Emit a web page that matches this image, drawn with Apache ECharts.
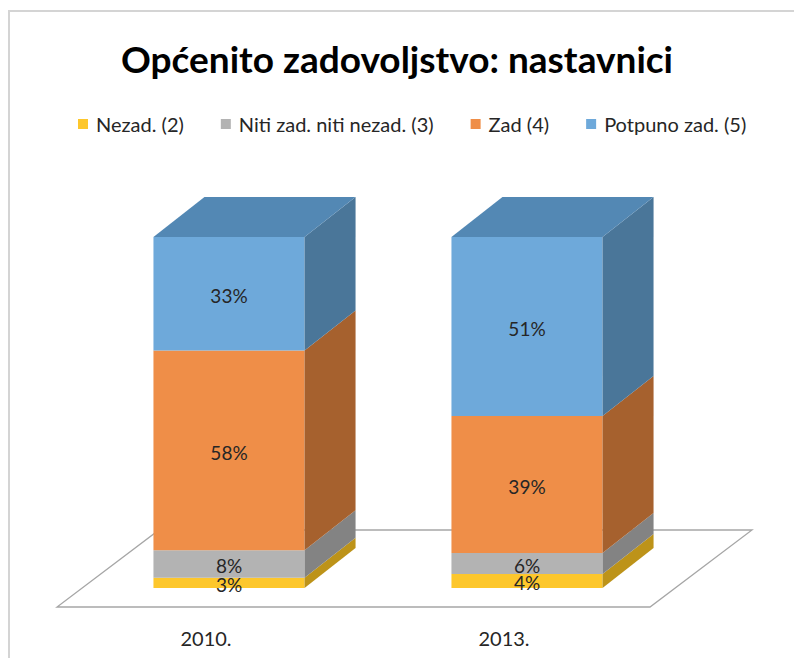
<!DOCTYPE html>
<html>
<head>
<meta charset="utf-8">
<script src="https://cdn.jsdelivr.net/npm/echarts@6/dist/echarts.min.js"></script>
<style>
  html, body { margin: 0; padding: 0; background: #fff; }
  #chart { width: 794px; height: 658px; }
</style>
</head>
<body>
<div id="chart"></div>
<script>
const categories = ["2010.", "2013."];
const seriesNames = ["Nezad. (2)", "Niti zad. niti nezad. (3)", "Zad (4)", "Potpuno zad. (5)"];
const nezad = [3, 4];
const niti = [8, 6];
const zad = [58, 39];
const potpuno = [33, 51];

const allValues = [nezad, niti, zad, potpuno];
const frontColors = ["#fdc72c", "#b3b3b3", "#ef8e48", "#6ea9da"];
const sideColors = ["#bd9319", "#838383", "#a6612e", "#4a7699"];
const topColors = ["#d9a821", "#999999", "#c9733a", "#5388b4"];

const chart = echarts.init(document.getElementById("chart"), null, { renderer: "svg" });

// 3D offset of the columns (pixels)
const DX = 51, DY = 40;
const BAR_RATIO = 0.507;
const FONT = "Lato, 'Open Sans', sans-serif";

// totals per category, every column is a 100% stack
const totals = categories.map((c, i) => allValues.reduce((s, arr) => s + arr[i], 0));

function stackData(k) {
  return categories.map((c, i) => {
    let base = 0;
    for (let j = 0; j < k; j++) base += allValues[j][i];
    const lo = base / totals[i] * 100;
    const hi = (base + allValues[k][i]) / totals[i] * 100;
    return [i, lo, hi, allValues[k][i]];
  });
}

function segmentRenderer(k) {
  return function (params, api) {
    const cat = api.value(0);
    const lo = api.coord([cat, api.value(1)]);
    const hi = api.coord([cat, api.value(2)]);
    const bw = api.size([1, 0])[0] * BAR_RATIO;
    const x0 = lo[0] - bw / 2, x1 = lo[0] + bw / 2;
    const yb = lo[1], yt = hi[1];
    const children = [
      {
        type: "rect",
        shape: { x: x0, y: yt, width: bw, height: yb - yt },
        style: { fill: frontColors[k] }
      },
      {
        type: "polygon",
        shape: { points: [[x1, yb], [x1 + DX, yb - DY], [x1 + DX, yt - DY], [x1, yt]] },
        style: { fill: sideColors[k] }
      }
    ];
    if (k === allValues.length - 1) {
      children.push({
        type: "polygon",
        shape: { points: [[x0, yt], [x1, yt], [x1 + DX, yt - DY], [x0 + DX, yt - DY]] },
        style: { fill: topColors[k] }
      });
    }
    children.push({
      type: "text",
      z2: 10,
      style: {
        text: api.value(3) + "%",
        x: lo[0], y: (yb + yt) / 2 + 2,
        align: "center", verticalAlign: "middle",
        lineHeight: 14,
        fill: "#262626", font: "19px " + FONT
      }
    });
    return { type: "group", children: children };
  };
}

function floorRenderer(params, api) {
  const cs = params.coordSys;
  const l = cs.x, r = cs.x + cs.width, b = cs.y + cs.height;
  return {
    type: "polygon",
    shape: { points: [[l - 23, b + 19], [r - 26, b + 19], [r + 76, b - 58], [l + 79, b - 58]] },
    style: { fill: "#fff", stroke: "#a6a6a6", lineWidth: 1.3 }
  };
}

const series = [
  {
    name: "floor",
    type: "custom",
    renderItem: floorRenderer,
    data: [[0]],
    silent: true,
    z: 1
  }
].concat(seriesNames.map((name, k) => ({
  name: name,
  type: "custom",
  renderItem: segmentRenderer(k),
  itemStyle: { color: frontColors[k] },
  encode: { x: 0, y: 2 },
  data: stackData(k),
  z: 2
})));

const option = {
  backgroundColor: "#fff",
  animation: false,
  title: {
    text: "Općenito zadovoljstvo: nastavnici",
    left: "center",
    top: 35,
    textStyle: { fontFamily: FONT, fontSize: 37, fontWeight: "bold", color: "#000" }
  },
  legend: {
    data: seriesNames,
    top: 109,
    left: 73,
    icon: "rect",
    itemWidth: 10,
    itemHeight: 10,
    itemGap: 37,
    textStyle: { fontFamily: FONT, fontSize: 20, color: "#262626", padding: [0, 0, 0, 3] }
  },
  grid: { left: 80, right: 118, top: 237, bottom: 70, containLabel: false },
  xAxis: {
    type: "category",
    data: categories,
    axisLine: { show: false },
    axisTick: { show: false },
    axisLabel: {
      margin: 40,
      fontFamily: FONT, fontSize: 20, color: "#262626",
      padding: [0, 46, 0, 0]
    }
  },
  yAxis: {
    type: "value",
    min: 0, max: 100,
    show: false
  },
  graphic: [
    {
      type: "polyline",
      shape: { points: [[9, 658], [9, 11], [794, 11]] },
      style: { stroke: "#d4d4d4", lineWidth: 2, fill: null },
      silent: true
    }
  ],
  series: series
};

chart.setOption(option);
</script>
</body>
</html>
